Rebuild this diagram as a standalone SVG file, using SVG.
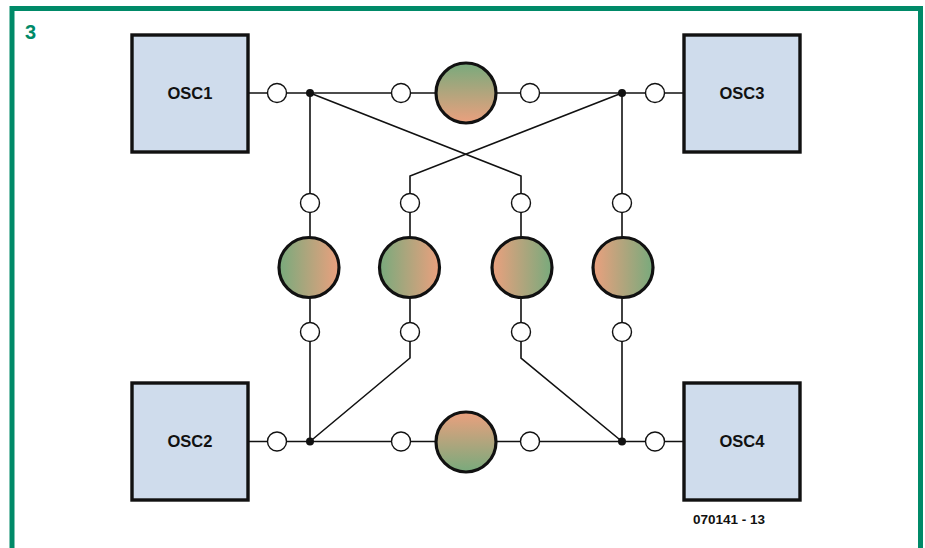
<svg xmlns="http://www.w3.org/2000/svg" width="925" height="548" viewBox="0 0 925 548">
<defs>
<linearGradient id="gV" x1="0" y1="0" x2="0" y2="1"><stop offset="0" stop-color="#78aa7c"/><stop offset="1" stop-color="#eba07e"/></linearGradient>
<linearGradient id="gVr" x1="0" y1="0" x2="0" y2="1"><stop offset="0" stop-color="#eba07e"/><stop offset="1" stop-color="#78aa7c"/></linearGradient>
<linearGradient id="gH" x1="0" y1="0" x2="1" y2="0"><stop offset="0" stop-color="#78aa7c"/><stop offset="1" stop-color="#eba07e"/></linearGradient>
<linearGradient id="gHr" x1="0" y1="0" x2="1" y2="0"><stop offset="0" stop-color="#eba07e"/><stop offset="1" stop-color="#78aa7c"/></linearGradient>
<style>
.box{fill:#cfdcec;stroke:#111;stroke-width:3.4}
.lbl{font-family:"Liberation Sans",Arial,sans-serif;font-weight:bold;font-size:16.5px;fill:#111;text-anchor:middle}
.w{fill:none;stroke:#111;stroke-width:1.6}
.sc{fill:#fff;stroke:#111;stroke-width:1.4}
.bc{stroke:#111;stroke-width:3.2}
.dot{fill:#111}
</style>
</defs>
<rect width="925" height="548" fill="#fff"/>
<path d="M12 548 V8.5 H920.5 V548" fill="none" stroke="#008a68" stroke-width="5"/>
<text x="25" y="39" font-family="Liberation Sans,Arial,sans-serif" font-weight="bold" font-size="20" fill="#008a68">3</text>

<g id="connectors">
<path class="w" d="M248 93 H683"/>
<path class="w" d="M248 441.5 H683"/>
<path class="w" d="M310 93 V441.5"/>
<path class="w" d="M622 93 V441.5"/>
<path class="w" d="M310 93 L521 176 V358 L622 441.5"/>
<path class="w" d="M622 93 L410 176 V358 L310 441.5"/>
<circle class="dot" cx="310" cy="93" r="4"/>
<circle class="dot" cx="622" cy="93" r="4"/>
<circle class="dot" cx="310" cy="441.5" r="4"/>
<circle class="dot" cx="622" cy="441.5" r="4"/>
</g>

<g id="osc1"><rect class="box" x="132" y="35" width="116" height="117"/><text class="lbl" x="190" y="98.5">OSC1</text></g>
<g id="osc3"><rect class="box" x="684" y="35" width="116" height="117"/><text class="lbl" x="742" y="98.5">OSC3</text></g>
<g id="osc2"><rect class="box" x="132" y="383" width="116" height="117"/><text class="lbl" x="190" y="446.5">OSC2</text></g>
<g id="osc4"><rect class="box" x="684" y="383" width="116" height="117"/><text class="lbl" x="742" y="446.5">OSC4</text></g>

<g id="ports">
<circle class="sc" cx="277" cy="93" r="9.5"/>
<circle class="sc" cx="401" cy="93" r="9.5"/>
<circle class="sc" cx="530" cy="93" r="9.5"/>
<circle class="sc" cx="655" cy="93" r="9.5"/>
<circle class="sc" cx="277" cy="441.5" r="9.5"/>
<circle class="sc" cx="401" cy="441.5" r="9.5"/>
<circle class="sc" cx="530" cy="441.5" r="9.5"/>
<circle class="sc" cx="655" cy="441.5" r="9.5"/>
<circle class="sc" cx="310" cy="203" r="9.5"/>
<circle class="sc" cx="410" cy="203" r="9.5"/>
<circle class="sc" cx="521" cy="203" r="9.5"/>
<circle class="sc" cx="622" cy="203" r="9.5"/>
<circle class="sc" cx="310" cy="332" r="9.5"/>
<circle class="sc" cx="410" cy="332" r="9.5"/>
<circle class="sc" cx="521" cy="332" r="9.5"/>
<circle class="sc" cx="622" cy="332" r="9.5"/>
</g>

<g id="coupler-top"><circle class="bc" cx="466" cy="93" r="30" fill="url(#gV)"/></g>
<g id="coupler-bottom"><circle class="bc" cx="466" cy="442" r="30" fill="url(#gVr)"/></g>
<g id="coupler-1"><circle class="bc" cx="309" cy="267.5" r="30" fill="url(#gH)"/></g>
<g id="coupler-2"><circle class="bc" cx="409.5" cy="267.5" r="30" fill="url(#gH)"/></g>
<g id="coupler-3"><circle class="bc" cx="522" cy="267.5" r="30" fill="url(#gHr)"/></g>
<g id="coupler-4"><circle class="bc" cx="623" cy="267.5" r="30" fill="url(#gHr)"/></g>

<text x="729" y="523.5" font-family="Liberation Sans,Arial,sans-serif" font-weight="bold" font-size="13.5" fill="#111" text-anchor="middle">070141 - 13</text>
</svg>
